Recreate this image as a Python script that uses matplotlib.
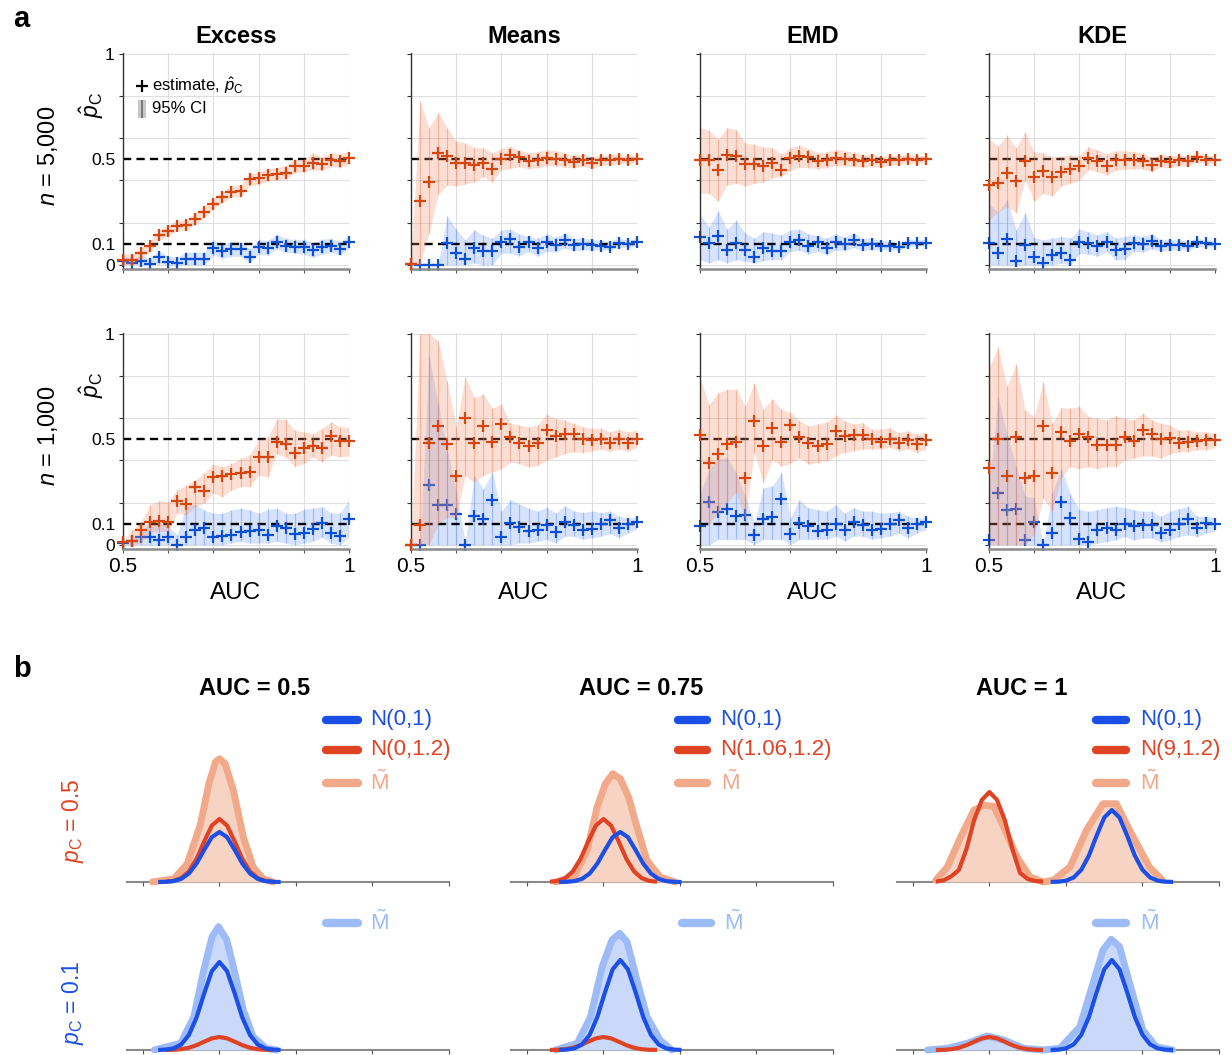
import numpy as np
import matplotlib
matplotlib.use('Agg')
import matplotlib.pyplot as plt
from matplotlib.patches import Rectangle

plt.rcParams['font.family'] = ['Liberation Sans', 'DejaVu Sans']
plt.rcParams['mathtext.fontset'] = 'custom'
plt.rcParams['mathtext.rm'] = 'Liberation Sans'
plt.rcParams['mathtext.it'] = 'Liberation Sans:italic'
plt.rcParams['mathtext.bf'] = 'Liberation Sans:bold'

# ---------------- panel a data ----------------
auc = [0.50, 0.52, 0.54, 0.56, 0.58, 0.60, 0.62, 0.64, 0.66, 0.68, 0.70, 0.72, 0.74,
       0.76, 0.78, 0.80, 0.82, 0.84, 0.86, 0.88, 0.90, 0.92, 0.94, 0.96, 0.98, 1.00]
true_pc = [0.5, 0.1]
methods = ['Excess', 'Means', 'EMD', 'KDE']
sizes = ['5,000', '1,000']

# n = 5,000
exc5_or = [0.024, 0.024, 0.055, 0.09, 0.14, 0.16, 0.185, 0.19, 0.217, 0.25, 0.29, 0.32, 0.346, 0.35, 0.404, 0.41, 0.425, 0.428, 0.435, 0.467, 0.467, 0.484, 0.475, 0.495, 0.492, 0.506]
exc5_or_lo = [0.0, 0.005, 0.03, 0.065, 0.115, 0.135, 0.16, 0.165, 0.19, 0.225, 0.265, 0.295, 0.32, 0.325, 0.375, 0.38, 0.395, 0.4, 0.405, 0.435, 0.44, 0.45, 0.445, 0.465, 0.46, 0.475]
exc5_or_hi = [0.05, 0.05, 0.08, 0.115, 0.165, 0.185, 0.21, 0.215, 0.245, 0.275, 0.315, 0.345, 0.375, 0.38, 0.43, 0.44, 0.455, 0.46, 0.47, 0.5, 0.5, 0.53, 0.51, 0.53, 0.525, 0.54]
exc5_bl = [0.016, 0.008, 0.019, 0.003, 0.035, 0.013, 0.008, 0.027, 0.027, 0.027, 0.079, 0.063, 0.074, 0.075, 0.039, 0.083, 0.079, 0.107, 0.09, 0.086, 0.083, 0.068, 0.083, 0.09, 0.074, 0.107]
exc5_bl_lo = [0.0, 0.0, 0.0, 0.0, 0.005, 0.0, 0.0, 0.0, 0.0, 0.0, 0.045, 0.03, 0.04, 0.04, 0.01, 0.05, 0.045, 0.075, 0.06, 0.055, 0.05, 0.035, 0.05, 0.06, 0.045, 0.075]
exc5_bl_hi = [0.04, 0.03, 0.045, 0.03, 0.065, 0.04, 0.035, 0.06, 0.06, 0.06, 0.115, 0.1, 0.11, 0.11, 0.075, 0.12, 0.115, 0.145, 0.125, 0.12, 0.12, 0.105, 0.12, 0.125, 0.11, 0.14]

mean5_or = [0.003, 0.303, 0.393, 0.53, 0.514, 0.48, 0.48, 0.472, 0.484, 0.453, 0.503, 0.519, 0.511, 0.49, 0.498, 0.508, 0.503, 0.495, 0.487, 0.495, 0.484, 0.495, 0.498, 0.503, 0.498, 0.503]
mean5_or_lo = [0.0, 0.0, 0.15, 0.333, 0.377, 0.373, 0.382, 0.393, 0.417, 0.393, 0.448, 0.456, 0.464, 0.455, 0.46, 0.47, 0.468, 0.462, 0.458, 0.466, 0.458, 0.47, 0.474, 0.48, 0.478, 0.484]
mean5_or_hi = [0.01, 0.775, 0.65, 0.72, 0.65, 0.585, 0.577, 0.555, 0.555, 0.53, 0.55, 0.561, 0.542, 0.53, 0.536, 0.545, 0.54, 0.53, 0.518, 0.524, 0.51, 0.52, 0.522, 0.526, 0.518, 0.522]
mean5_bl = [0.003, 0.0, 0.0, 0.0, 0.102, 0.055, 0.027, 0.079, 0.063, 0.063, 0.11, 0.121, 0.086, 0.107, 0.079, 0.11, 0.094, 0.118, 0.094, 0.097, 0.094, 0.091, 0.086, 0.102, 0.099, 0.107]
mean5_bl_lo = [0.0, 0.0, 0.0, 0.0, 0.0, 0.0, 0.0, 0.008, 0.0, 0.0, 0.055, 0.055, 0.042, 0.063, 0.04, 0.063, 0.06, 0.08, 0.065, 0.07, 0.07, 0.07, 0.07, 0.082, 0.082, 0.09]
mean5_bl_hi = [0.005, 0.0, 0.0, 0.0, 0.231, 0.168, 0.118, 0.165, 0.14, 0.126, 0.165, 0.168, 0.146, 0.134, 0.126, 0.146, 0.13, 0.15, 0.125, 0.125, 0.12, 0.115, 0.11, 0.125, 0.118, 0.125]

emd5_or = [0.495, 0.495, 0.451, 0.519, 0.516, 0.476, 0.476, 0.469, 0.48, 0.451, 0.506, 0.516, 0.511, 0.49, 0.498, 0.508, 0.503, 0.498, 0.49, 0.495, 0.487, 0.495, 0.498, 0.503, 0.498, 0.5]
emd5_or_lo = [0.34, 0.338, 0.3, 0.377, 0.385, 0.373, 0.385, 0.393, 0.41, 0.417, 0.448, 0.461, 0.46, 0.455, 0.46, 0.47, 0.468, 0.465, 0.46, 0.466, 0.462, 0.472, 0.476, 0.482, 0.48, 0.484]
emd5_or_hi = [0.65, 0.637, 0.594, 0.65, 0.64, 0.577, 0.57, 0.558, 0.555, 0.524, 0.555, 0.566, 0.55, 0.53, 0.536, 0.545, 0.54, 0.532, 0.52, 0.524, 0.512, 0.518, 0.52, 0.524, 0.516, 0.518]
emd5_bl = [0.13, 0.102, 0.134, 0.071, 0.102, 0.068, 0.039, 0.079, 0.066, 0.066, 0.11, 0.118, 0.09, 0.107, 0.079, 0.11, 0.097, 0.118, 0.094, 0.097, 0.091, 0.091, 0.083, 0.102, 0.102, 0.105]
emd5_bl_lo = [0.024, 0.008, 0.024, 0.008, 0.024, 0.016, 0.008, 0.02, 0.024, 0.024, 0.063, 0.068, 0.052, 0.063, 0.047, 0.07, 0.065, 0.082, 0.068, 0.072, 0.07, 0.072, 0.068, 0.085, 0.088, 0.09]
emd5_bl_hi = [0.236, 0.18, 0.255, 0.168, 0.21, 0.15, 0.126, 0.157, 0.15, 0.142, 0.165, 0.168, 0.146, 0.137, 0.126, 0.148, 0.13, 0.152, 0.124, 0.124, 0.115, 0.112, 0.1, 0.12, 0.118, 0.12]

kde5_or = [0.377, 0.385, 0.436, 0.398, 0.492, 0.417, 0.445, 0.417, 0.44, 0.453, 0.467, 0.506, 0.492, 0.467, 0.495, 0.495, 0.495, 0.492, 0.472, 0.492, 0.487, 0.495, 0.49, 0.511, 0.498, 0.498]
kde5_or_lo = [0.212, 0.25, 0.275, 0.247, 0.4, 0.3, 0.338, 0.325, 0.373, 0.385, 0.4, 0.451, 0.44, 0.425, 0.447, 0.452, 0.455, 0.455, 0.44, 0.462, 0.46, 0.468, 0.466, 0.488, 0.478, 0.48]
kde5_or_hi = [0.597, 0.561, 0.613, 0.555, 0.629, 0.535, 0.53, 0.511, 0.514, 0.519, 0.519, 0.558, 0.545, 0.525, 0.54, 0.54, 0.535, 0.53, 0.508, 0.524, 0.515, 0.52, 0.515, 0.534, 0.518, 0.516]
kde5_bl = [0.102, 0.055, 0.121, 0.016, 0.094, 0.036, 0.008, 0.044, 0.058, 0.024, 0.107, 0.102, 0.09, 0.11, 0.068, 0.075, 0.102, 0.097, 0.113, 0.091, 0.094, 0.094, 0.09, 0.107, 0.102, 0.099]
kde5_bl_lo = [0.0, 0.0, 0.0, 0.0, 0.0, 0.0, 0.0, 0.0, 0.008, 0.0, 0.052, 0.05, 0.04, 0.063, 0.024, 0.024, 0.063, 0.06, 0.075, 0.065, 0.07, 0.072, 0.07, 0.085, 0.085, 0.085]
kde5_bl_hi = [0.29, 0.25, 0.307, 0.165, 0.247, 0.13, 0.118, 0.126, 0.134, 0.126, 0.168, 0.157, 0.142, 0.157, 0.126, 0.134, 0.142, 0.135, 0.148, 0.12, 0.12, 0.118, 0.11, 0.126, 0.118, 0.114]

# n = 1,000
exc1_or = [0.013, 0.02, 0.071, 0.11, 0.113, 0.11, 0.208, 0.193, 0.272, 0.255, 0.322, 0.325, 0.335, 0.341, 0.343, 0.417, 0.414, 0.487, 0.476, 0.437, 0.456, 0.469, 0.459, 0.514, 0.49, 0.49]
exc1_or_lo = [0.013, 0.0, 0.008, 0.063, 0.063, 0.063, 0.15, 0.142, 0.181, 0.197, 0.244, 0.228, 0.26, 0.275, 0.275, 0.33, 0.322, 0.43, 0.417, 0.37, 0.385, 0.417, 0.393, 0.425, 0.417, 0.421]
exc1_or_hi = [0.013, 0.07, 0.11, 0.189, 0.209, 0.204, 0.26, 0.283, 0.307, 0.341, 0.382, 0.37, 0.385, 0.409, 0.425, 0.498, 0.511, 0.594, 0.594, 0.542, 0.535, 0.527, 0.55, 0.582, 0.558, 0.555]
exc1_bl = [0.008, 0.016, 0.036, 0.035, 0.024, 0.035, 0.0, 0.036, 0.071, 0.079, 0.039, 0.042, 0.047, 0.06, 0.063, 0.071, 0.047, 0.09, 0.079, 0.05, 0.058, 0.074, 0.105, 0.055, 0.042, 0.123]
exc1_bl_lo = [0.0, 0.0, 0.0, 0.0, 0.0, 0.0, 0.0, 0.0, 0.0, 0.0, 0.0, 0.0, 0.008, 0.016, 0.008, 0.008, 0.008, 0.016, 0.008, 0.0, 0.008, 0.016, 0.036, 0.008, 0.0, 0.036]
exc1_bl_hi = [0.016, 0.027, 0.055, 0.118, 0.11, 0.086, 0.047, 0.189, 0.19, 0.165, 0.149, 0.149, 0.165, 0.173, 0.165, 0.149, 0.168, 0.173, 0.149, 0.149, 0.168, 0.173, 0.181, 0.152, 0.149, 0.212]

mean1_or = [0.0, 0.092, 0.483, 0.563, 0.475, 0.328, 0.6, 0.483, 0.563, 0.488, 0.571, 0.512, 0.483, 0.467, 0.483, 0.543, 0.515, 0.527, 0.523, 0.503, 0.496, 0.503, 0.483, 0.499, 0.483, 0.499]
mean1_or_lo = [0.0, 0.0, 0.0, 0.1, 0.13, 0.13, 0.328, 0.296, 0.328, 0.344, 0.36, 0.392, 0.384, 0.368, 0.376, 0.4, 0.416, 0.432, 0.44, 0.436, 0.444, 0.452, 0.444, 0.452, 0.444, 0.46]
mean1_or_hi = [0.0, 1.0, 1.0, 0.966, 0.775, 0.56, 0.794, 0.698, 0.714, 0.647, 0.666, 0.575, 0.567, 0.559, 0.567, 0.618, 0.598, 0.59, 0.575, 0.559, 0.551, 0.551, 0.535, 0.547, 0.535, 0.543]
mean1_bl = [0.0, 0.0, 0.285, 0.19, 0.19, 0.145, 0.0, 0.134, 0.124, 0.212, 0.037, 0.105, 0.086, 0.065, 0.069, 0.094, 0.061, 0.11, 0.094, 0.07, 0.073, 0.1, 0.116, 0.078, 0.1, 0.108]
mean1_bl_lo = [0.0, 0.0, 0.0, 0.0, 0.0, 0.0, 0.0, 0.0, 0.0, 0.0, 0.0, 0.0, 0.008, 0.008, 0.016, 0.025, 0.008, 0.04, 0.04, 0.025, 0.033, 0.04, 0.053, 0.033, 0.057, 0.073]
mean1_bl_hi = [0.0, 0.0, 0.894, 0.67, 0.45, 0.26, 0.01, 0.328, 0.265, 0.344, 0.16, 0.213, 0.193, 0.172, 0.16, 0.177, 0.15, 0.185, 0.16, 0.153, 0.16, 0.153, 0.16, 0.136, 0.128, 0.128]

emd1_or = [0.519, 0.386, 0.429, 0.476, 0.487, 0.318, 0.587, 0.468, 0.555, 0.489, 0.568, 0.511, 0.481, 0.468, 0.476, 0.54, 0.516, 0.521, 0.519, 0.5, 0.489, 0.5, 0.481, 0.495, 0.476, 0.495]
emd1_or_lo = [0.12, 0.1, 0.15, 0.2, 0.25, 0.12, 0.437, 0.296, 0.4, 0.373, 0.386, 0.411, 0.381, 0.389, 0.397, 0.421, 0.437, 0.445, 0.453, 0.453, 0.453, 0.461, 0.445, 0.453, 0.437, 0.453]
emd1_or_hi = [0.792, 0.666, 0.72, 0.737, 0.737, 0.658, 0.766, 0.642, 0.69, 0.642, 0.627, 0.587, 0.563, 0.571, 0.582, 0.614, 0.587, 0.571, 0.579, 0.547, 0.547, 0.555, 0.531, 0.539, 0.523, 0.534]
emd1_bl = [0.089, 0.202, 0.157, 0.168, 0.136, 0.139, 0.046, 0.123, 0.133, 0.215, 0.049, 0.101, 0.089, 0.065, 0.068, 0.097, 0.068, 0.109, 0.093, 0.07, 0.073, 0.1, 0.116, 0.078, 0.1, 0.108]
emd1_bl_lo = [0.0, 0.0, 0.025, 0.025, 0.025, 0.025, 0.0, 0.025, 0.025, 0.025, 0.0, 0.025, 0.025, 0.025, 0.025, 0.041, 0.017, 0.041, 0.041, 0.025, 0.033, 0.041, 0.054, 0.033, 0.057, 0.07]
emd1_bl_hi = [0.239, 0.357, 0.405, 0.413, 0.342, 0.23, 0.104, 0.27, 0.278, 0.342, 0.128, 0.212, 0.175, 0.167, 0.159, 0.19, 0.15, 0.175, 0.159, 0.159, 0.151, 0.151, 0.159, 0.135, 0.128, 0.128]

kde1_or = [0.362, 0.503, 0.327, 0.511, 0.316, 0.324, 0.564, 0.338, 0.535, 0.49, 0.527, 0.511, 0.471, 0.471, 0.474, 0.511, 0.492, 0.543, 0.527, 0.503, 0.506, 0.484, 0.487, 0.49, 0.495, 0.495]
kde1_or_lo = [0.0, 0.0, 0.0, 0.0, 0.0, 0.05, 0.22, 0.16, 0.32, 0.37, 0.36, 0.37, 0.36, 0.37, 0.37, 0.4, 0.41, 0.42, 0.42, 0.41, 0.43, 0.44, 0.44, 0.45, 0.45, 0.46]
kde1_or_hi = [0.839, 0.935, 0.751, 0.855, 0.639, 0.607, 0.772, 0.575, 0.65, 0.647, 0.655, 0.607, 0.599, 0.591, 0.612, 0.599, 0.591, 0.623, 0.591, 0.575, 0.567, 0.543, 0.543, 0.535, 0.535, 0.53]
kde1_bl = [0.023, 0.247, 0.164, 0.17, 0.023, 0.108, 0.0, 0.058, 0.204, 0.127, 0.028, 0.015, 0.071, 0.079, 0.071, 0.098, 0.09, 0.095, 0.092, 0.058, 0.071, 0.098, 0.122, 0.079, 0.103, 0.1]
kde1_bl_lo = [0.0, 0.0, 0.0, 0.0, 0.0, 0.0, 0.0, 0.0, 0.0, 0.0, 0.0, 0.0, 0.007, 0.015, 0.023, 0.039, 0.023, 0.031, 0.031, 0.015, 0.023, 0.039, 0.047, 0.039, 0.055, 0.063]
kde1_bl_hi = [0.26, 0.7, 0.519, 0.375, 0.231, 0.223, 0.0, 0.247, 0.359, 0.239, 0.167, 0.159, 0.167, 0.175, 0.183, 0.175, 0.167, 0.159, 0.159, 0.135, 0.159, 0.17, 0.183, 0.135, 0.135, 0.127]

# ---------------- panel b data ----------------
auc_b = ['AUC = 0.5', 'AUC = 0.75', 'AUC = 1']
red_labels = ['N(0,1.2)', 'N(1.06,1.2)', 'N(9,1.2)']
pc_labels = ['0.5', '0.1']

# sample offsets from each curve's centre (axis units)
gx_blue = [-4.0, -3.5, -3.0, -2.5, -2.0, -1.5, -1.0, -0.5, 0.0, 0.5, 1.0, 1.5, 2.0, 2.5, 3.0, 3.5, 4.0]
gx_red = [-3.5, -3.0, -2.5, -2.0, -1.5, -1.0, -0.5, 0.0, 0.5, 1.0, 1.5, 2.0, 2.5, 3.0, 3.5]

blue_centre = [0.0, 1.1, 8.0]
red_centre = [0.0, 0.0, 0.0]

# p_C = 0.5 row
b05_blue = [[0.0, 0.002, 0.009, 0.031, 0.085, 0.184, 0.32, 0.448, 0.5, 0.448, 0.32, 0.184, 0.085, 0.031, 0.009, 0.002, 0.0],
            [0.0, 0.002, 0.009, 0.031, 0.085, 0.184, 0.32, 0.448, 0.5, 0.448, 0.32, 0.184, 0.085, 0.031, 0.009, 0.002, 0.0],
            [0.001, 0.003, 0.013, 0.045, 0.122, 0.264, 0.462, 0.644, 0.72, 0.644, 0.462, 0.264, 0.122, 0.045, 0.013, 0.003, 0.001]]
b05_red = [[0.003, 0.011, 0.039, 0.106, 0.231, 0.404, 0.564, 0.63, 0.564, 0.404, 0.231, 0.106, 0.039, 0.011, 0.003],
           [0.003, 0.011, 0.039, 0.106, 0.231, 0.404, 0.564, 0.63, 0.564, 0.404, 0.231, 0.106, 0.039, 0.011, 0.003],
           [0.004, 0.016, 0.056, 0.12, 0.33, 0.62, 0.82, 0.9, 0.82, 0.62, 0.33, 0.09, 0.03, 0.01, 0.004]]
# p_C = 0.1 row
b01_blue = [[0.001, 0.004, 0.016, 0.055, 0.149, 0.323, 0.564, 0.788, 0.88, 0.788, 0.564, 0.323, 0.149, 0.055, 0.016, 0.004, 0.001],
            [0.001, 0.004, 0.016, 0.056, 0.152, 0.33, 0.577, 0.806, 0.9, 0.806, 0.577, 0.33, 0.152, 0.056, 0.016, 0.004, 0.001],
            [0.001, 0.004, 0.016, 0.056, 0.152, 0.33, 0.577, 0.806, 0.9, 0.806, 0.577, 0.33, 0.152, 0.056, 0.016, 0.004, 0.001]]
b01_red = [[0.001, 0.002, 0.008, 0.022, 0.048, 0.083, 0.116, 0.13, 0.116, 0.083, 0.048, 0.022, 0.008, 0.002, 0.001],
           [0.001, 0.002, 0.008, 0.022, 0.048, 0.083, 0.116, 0.13, 0.116, 0.083, 0.048, 0.022, 0.008, 0.002, 0.001],
           [0.001, 0.002, 0.008, 0.022, 0.048, 0.083, 0.116, 0.13, 0.116, 0.083, 0.048, 0.022, 0.008, 0.002, 0.001]]

# mixture estimate M~ (x, height) per column
m05_x = [[-4.37, -2.97, -2.1, -1.23, -0.69, -0.26, 0.0, 0.37, 0.91, 1.56, 2.2, 2.85, 3.5],
         [-3.12, -1.93, -1.06, -0.41, 0.13, 0.61, 1.1, 1.64, 2.19, 2.84, 3.7, 4.68],
         [-3.51, -2.75, -1.88, -1.02, -0.37, 0.28, 0.93, 1.8, 2.66, 3.53, 4.18, 5.26, 6.34, 7.42, 8.29, 9.16, 10.45, 11.32]]
m05_y = [[0.0, 0.033, 0.183, 0.583, 0.983, 1.2, 1.233, 1.183, 0.917, 0.45, 0.15, 0.033, 0.0],
         [0.0, 0.05, 0.317, 0.75, 0.983, 1.083, 1.033, 0.85, 0.55, 0.217, 0.05, 0.0],
         [0.017, 0.15, 0.45, 0.717, 0.767, 0.757, 0.55, 0.25, 0.05, 0.0, 0.017, 0.15, 0.517, 0.783, 0.783, 0.517, 0.15, 0.017]]
m01_x = [[-4.26, -2.53, -1.67, -1.02, -0.48, -0.06, 0.48, 0.91, 1.56, 2.2, 3.07, 3.72],
         [-3.12, -1.71, -0.84, -0.08, 0.56, 1.06, 1.54, 2.19, 2.84, 3.7, 4.46],
         [-4.05, -2.75, -1.45, -0.15, 0.93, 2.23, 3.53, 4.61, 5.91, 6.77, 7.42, 7.96, 8.5, 9.16, 10.02, 10.89, 11.97]]
m01_y = [[0.0, 0.067, 0.333, 0.8, 1.133, 1.233, 1.1, 0.833, 0.4, 0.133, 0.017, 0.0],
         [0.0, 0.067, 0.333, 0.833, 1.1, 1.167, 1.083, 0.7, 0.333, 0.1, 0.0],
         [0.0, 0.017, 0.067, 0.14, 0.1, 0.017, 0.0, 0.017, 0.233, 0.667, 1.0, 1.107, 1.033, 0.667, 0.2, 0.033, 0.0]]

# ---------------- styles ----------------
or_mark = '#D5470F'
bl_mark = '#0B50D4'
or_fill = (0.96, 0.55, 0.40, 0.28)
bl_fill = (0.35, 0.55, 0.96, 0.24)
or_vline = (0.94, 0.50, 0.35, 0.45)
bl_vline = (0.35, 0.55, 0.96, 0.45)

b_blue = '#1B4FE6'
b_red = '#E04324'
m_or_line = '#F2A98A'
m_or_fill = '#F7D3C4'
m_bl_line = '#9DBBF7'
m_bl_fill = '#CAD9F9'

W, H = 1232, 1055
fig = plt.figure(figsize=(W / 100, H / 100), dpi=100)


def add_px_axes(x0, x1, ybot, ytop):
    return fig.add_axes([x0 / W, 1 - ybot / H, (x1 - x0) / W, (ybot - ytop) / H])


panel_a = [
    [(exc5_or, exc5_or_lo, exc5_or_hi, exc5_bl, exc5_bl_lo, exc5_bl_hi),
     (mean5_or, mean5_or_lo, mean5_or_hi, mean5_bl, mean5_bl_lo, mean5_bl_hi),
     (emd5_or, emd5_or_lo, emd5_or_hi, emd5_bl, emd5_bl_lo, emd5_bl_hi),
     (kde5_or, kde5_or_lo, kde5_or_hi, kde5_bl, kde5_bl_lo, kde5_bl_hi)],
    [(exc1_or, exc1_or_lo, exc1_or_hi, exc1_bl, exc1_bl_lo, exc1_bl_hi),
     (mean1_or, mean1_or_lo, mean1_or_hi, mean1_bl, mean1_bl_lo, mean1_bl_hi),
     (emd1_or, emd1_or_lo, emd1_or_hi, emd1_bl, emd1_bl_lo, emd1_bl_hi),
     (kde1_or, kde1_or_lo, kde1_or_hi, kde1_bl, kde1_bl_lo, kde1_bl_hi)],
]

a_left = [123, 411, 700, 989]
a_rows = [(269, 53), (549, 333)]

for r in range(2):
    for c in range(4):
        ybot, ytop = a_rows[r]
        ax = add_px_axes(a_left[c], a_left[c] + 226, ybot, ytop)
        o, olo, ohi, b, blo, bhi = panel_a[r][c]

        # blue series
        ax.fill_between(auc, blo, bhi, color=bl_fill, lw=0, zorder=1)
        ax.vlines(auc, blo, bhi, color=bl_vline, lw=0.9, zorder=1.1)
        for v in true_pc:
            ax.axhline(v, color='black', lw=1.7, ls=(0, (3.5, 2.2)), zorder=1.5)
        ax.plot(auc, b, ls='none', marker='+', ms=8, mew=1.6, color=bl_mark,
                zorder=2, clip_on=False)
        # orange series
        ax.fill_between(auc, olo, ohi, color=or_fill, lw=0, zorder=2.2)
        ax.vlines(auc, olo, ohi, color=or_vline, lw=0.9, zorder=2.3)
        ax.plot(auc, o, ls='none', marker='+', ms=8, mew=1.6, color=or_mark,
                zorder=3, clip_on=False)

        ax.set_xlim(0.5, 1.0)
        ax.set_ylim(-0.02, 1.003)
        ax.set_xticks([0.5, 0.6, 0.7, 0.8, 0.9, 1.0])
        ax.set_yticks([0, 0.2, 0.4, 0.6, 0.8, 1.0])
        ax.set_yticks([0.1, 0.5], minor=True)
        if c == 0:
            ax.set_yticklabels(['0', '', '', '', '', '1'])
            ax.set_yticklabels(['0.1', '0.5'], minor=True)
            ax.text(-0.14, 0.76, r'$\hat{p}_\mathrm{C}$', transform=ax.transAxes,
                    rotation=90, ha='center', va='center', fontsize=16.5)
        else:
            ax.set_yticklabels([])
            ax.set_yticklabels([], minor=True)
        if r == 1:
            ax.set_xticklabels(['0.5', '', '', '', '', '1'], fontsize=15)
            ax.set_xlabel('AUC', fontsize=17.5, labelpad=4)
        else:
            ax.set_xticklabels([])
            ax.set_title(methods[c], fontsize=17, fontweight='bold', pad=7)

        ax.grid(True, which='major', color='#DEDEDE', lw=0.8, zorder=0)
        ax.set_axisbelow(True)
        ax.tick_params(axis='y', which='major', direction='out', length=3,
                       width=0.8, color='#333333', labelsize=12.5, pad=3)
        ax.tick_params(axis='y', which='minor', length=0, labelsize=12.5, pad=5)
        ax.tick_params(axis='x', direction='out', length=3, width=0.8,
                       color='#555555', pad=3)
        for s in ['top', 'right']:
            ax.spines[s].set_visible(False)
        ax.spines['left'].set_color('#333333')
        ax.spines['left'].set_linewidth(1.0)
        ax.spines['bottom'].set_color('#8A8A8A')
        ax.spines['bottom'].set_linewidth(1.8)

        if r == 0 and c == 0:
            ax.plot(0.084, 0.847, marker='+', ms=8, mew=1.6, color='black',
                    transform=ax.transAxes, clip_on=False)
            ax.text(0.13, 0.847, r'estimate, $\hat{p}_\mathrm{C}$', transform=ax.transAxes,
                    va='center', ha='left', fontsize=12)
            ax.add_patch(Rectangle((0.066, 0.70), 0.036, 0.082, transform=ax.transAxes,
                                   facecolor='#C8C8C8', edgecolor='none', zorder=4))
            ax.add_patch(Rectangle((0.079, 0.70), 0.011, 0.082, transform=ax.transAxes,
                                   facecolor='#7A7A7A', edgecolor='none', zorder=4))
            ax.text(0.13, 0.741, '95% CI', transform=ax.transAxes,
                    va='center', ha='left', fontsize=12)

    ymid = (a_rows[r][0] + a_rows[r][1]) / 2 - 5
    fig.text(48 / W, 1 - ymid / H, r'$n$ = ' + sizes[r], rotation=90,
             ha='center', va='center', fontsize=17)

fig.text(13 / W, 1 - 27 / H, 'a', fontsize=21, fontweight='bold', va='baseline')
fig.text(13 / W, 1 - 677 / H, 'b', fontsize=21, fontweight='bold', va='baseline')

# ---------------- panel b ----------------
b_left = [127, 511, 897]
b_rows = [882, 1050]
title_x = [255, 641, 1022]
leg_x = [(0.606, 0.728, 0.755), (0.506, 0.622, 0.651), (0.606, 0.724, 0.755)]
leg_x_bottom = [(0.606, 0.728, 0.755), (0.518, 0.634, 0.663), (0.606, 0.724, 0.755)]

rows_b = [(b05_blue, b05_red, m05_x, m05_y, m_or_line, m_or_fill),
          (b01_blue, b01_red, m01_x, m01_y, m_bl_line, m_bl_fill)]

for r in range(2):
    blues, reds, mxs, mys, mline, mfill = rows_b[r]
    for c in range(3):
        ax = add_px_axes(b_left[c], b_left[c] + 322, b_rows[r], b_rows[r] - 170)
        ax.patch.set_visible(False)
        ax.fill_between(mxs[c], 0, mys[c], color=mfill, lw=0, zorder=1)
        ax.plot(mxs[c], mys[c], color=mline, lw=5, solid_joinstyle='round',
                solid_capstyle='round', zorder=2, clip_on=False)
        xr = np.add(red_centre[c], gx_red)
        ax.plot(xr, reds[c], color=b_red, lw=3, zorder=3, clip_on=False,
                solid_capstyle='butt')
        xb = np.add(blue_centre[c], gx_blue)
        ax.plot(xb, blues[c], color=b_blue, lw=3, zorder=4, clip_on=False,
                solid_capstyle='butt')

        ax.set_xlim(-6.04, 15)
        ax.set_ylim(0, 1.70)
        ax.set_xticks([-5, 0, 5, 10, 15])
        ax.set_xticklabels([])
        ax.set_yticks([])
        for s in ['top', 'right', 'left']:
            ax.spines[s].set_visible(False)
        ax.spines['bottom'].set_color('#8A8A8A')
        ax.spines['bottom'].set_linewidth(1.5)
        ax.spines['bottom'].set_zorder(0.5)
        ax.tick_params(axis='x', direction='out', length=3, width=0.8, color='#555555')

        if r == 0:
            x0, x1, xt = leg_x[c]
            entries = [('N(0,1)', b_blue, 162), (red_labels[c], b_red, 132),
                       (r'$\tilde{\mathrm{M}}$', mline, 99)]
        else:
            x0, x1, xt = leg_x_bottom[c]
            entries = [(r'$\tilde{\mathrm{M}}$', mline, 127)]
        for lab, col, ypx in entries:
            yy = ypx / 170
            ax.plot([x0 + 0.012, x1 - 0.012], [yy, yy], color=col, lw=6,
                    solid_capstyle='round', transform=ax.transAxes, clip_on=False)
            ax.text(xt, yy, lab, color=col, fontsize=16, va='center', ha='left',
                    transform=ax.transAxes)

        if r == 0:
            fig.text(title_x[c] / W, 1 - 695 / H, auc_b[c], fontsize=17,
                     fontweight='bold', ha='center', va='baseline')

fig.text(73 / W, 1 - 821 / H, r'$p_\mathrm{C}$ = ' + pc_labels[0], rotation=90,
         color=b_red, fontsize=16.5, ha='center', va='center')
fig.text(73 / W, 1 - 1003 / H, r'$p_\mathrm{C}$ = ' + pc_labels[1], rotation=90,
         color=b_blue, fontsize=16.5, ha='center', va='center')

fig.savefig('out.png', dpi=100)
